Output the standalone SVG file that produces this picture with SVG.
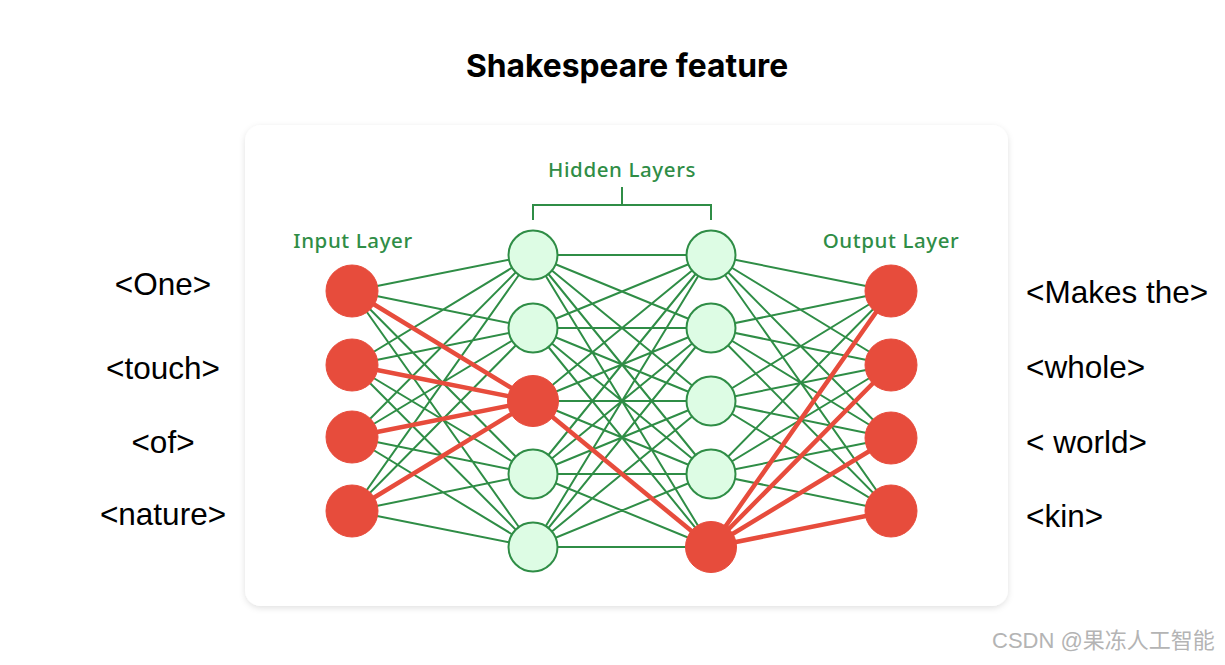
<svg xmlns="http://www.w3.org/2000/svg" width="1225" height="665" viewBox="0 0 1225 665">
<defs>
<filter id="sh" x="-5%" y="-5%" width="110%" height="115%">
<feDropShadow dx="0" dy="2" stdDeviation="3" flood-color="#000" flood-opacity="0.12"/>
</filter>
<style>
.lbl{font-family:"Liberation Sans",Arial,sans-serif;font-size:31.5px;fill:#000}
.gl{font-family:"Noto Sans","Open Sans",sans-serif;font-size:20.5px;font-weight:500;letter-spacing:0.6px;fill:#2f8d46}
.g{stroke:#2f8d46;stroke-width:2;fill:none}
.r{stroke:#e74c3c;stroke-width:4.5;fill:none}
.nr{fill:#e74c3c;stroke:#e74c3c;stroke-width:1}
.ng{fill:#ddfce4;stroke:#2f8d46;stroke-width:2}
</style>
</defs>
<rect width="1225" height="665" fill="#fff"/>
<text x="627" y="77" text-anchor="middle" font-family="Inter,'Liberation Sans',sans-serif" font-weight="700" font-size="31.8" fill="#000">Shakespeare feature</text>
<rect x="245" y="125" width="763" height="481" rx="16" fill="#fff" filter="url(#sh)"/>
<text class="gl" x="353" y="248" text-anchor="middle">Input Layer</text>
<text class="gl" x="622" y="177" text-anchor="middle">Hidden Layers</text>
<text class="gl" x="891" y="248" text-anchor="middle">Output Layer</text>
<path class="g" d="M533,220 V205 H711 V220 M622,205 V187"/>
<g id="connectors">
<g class="g">
<path d="M352,291 L533,255 M352,291 L533,328 M352,291 L533,474 M352,291 L533,547
M352,365 L533,255 M352,365 L533,328 M352,365 L533,474 M352,365 L533,547
M352,437 L533,255 M352,437 L533,328 M352,437 L533,474 M352,437 L533,547
M352,511 L533,255 M352,511 L533,328 M352,511 L533,474 M352,511 L533,547"/>
<path d="M533,255 L711,255 M533,255 L711,328 M533,255 L711,401 M533,255 L711,474 M533,255 L711,547
M533,328 L711,255 M533,328 L711,328 M533,328 L711,401 M533,328 L711,474 M533,328 L711,547
M533,401 L711,255 M533,401 L711,328 M533,401 L711,401 M533,401 L711,474
M533,474 L711,255 M533,474 L711,328 M533,474 L711,401 M533,474 L711,474 M533,474 L711,547
M533,547 L711,255 M533,547 L711,328 M533,547 L711,401 M533,547 L711,474 M533,547 L711,547"/>
<path d="M711,255 L891,291 M711,255 L891,365 M711,255 L891,438 M711,255 L891,511
M711,328 L891,291 M711,328 L891,365 M711,328 L891,438 M711,328 L891,511
M711,401 L891,291 M711,401 L891,365 M711,401 L891,438 M711,401 L891,511
M711,474 L891,291 M711,474 L891,365 M711,474 L891,438 M711,474 L891,511"/>
</g>
<g class="r">
<path d="M352,291 L533,401 M352,365 L533,401 M352,437 L533,401 M352,511 L533,401"/>
<path d="M533,401 L711,547"/>
<path d="M711,547 L891,291 M711,547 L891,365 M711,547 L891,438 M711,547 L891,511"/>
</g>
</g>
<g id="in1"><circle class="nr" cx="352" cy="291" r="26"/></g>
<g id="in2"><circle class="nr" cx="352" cy="365" r="26"/></g>
<g id="in3"><circle class="nr" cx="352" cy="437" r="26"/></g>
<g id="in4"><circle class="nr" cx="352" cy="511" r="26"/></g>
<g id="h1n1"><circle class="ng" cx="533" cy="255" r="24.5"/></g>
<g id="h1n2"><circle class="ng" cx="533" cy="328" r="24.5"/></g>
<g id="h1n3"><circle class="nr" cx="533" cy="401" r="25.5"/></g>
<g id="h1n4"><circle class="ng" cx="533" cy="474" r="24.5"/></g>
<g id="h1n5"><circle class="ng" cx="533" cy="547" r="24.5"/></g>
<g id="h2n1"><circle class="ng" cx="711" cy="255" r="24.5"/></g>
<g id="h2n2"><circle class="ng" cx="711" cy="328" r="24.5"/></g>
<g id="h2n3"><circle class="ng" cx="711" cy="401" r="24.5"/></g>
<g id="h2n4"><circle class="ng" cx="711" cy="474" r="24.5"/></g>
<g id="h2n5"><circle class="nr" cx="711" cy="547" r="25.5"/></g>
<g id="out1"><circle class="nr" cx="891" cy="291" r="26"/></g>
<g id="out2"><circle class="nr" cx="891" cy="365" r="26"/></g>
<g id="out3"><circle class="nr" cx="891" cy="438" r="26"/></g>
<g id="out4"><circle class="nr" cx="891" cy="511" r="26"/></g>
<g id="left-labels">
<text class="lbl" x="163" y="295" text-anchor="middle">&lt;One&gt;</text>
<text class="lbl" x="163" y="379" text-anchor="middle">&lt;touch&gt;</text>
<text class="lbl" x="163" y="453" text-anchor="middle">&lt;of&gt;</text>
<text class="lbl" x="163" y="525" text-anchor="middle">&lt;nature&gt;</text>
</g>
<g id="right-labels">
<text class="lbl" x="1026" y="303">&lt;Makes the&gt;</text>
<text class="lbl" x="1026" y="378">&lt;whole&gt;</text>
<text class="lbl" x="1026" y="453">&lt; world&gt;</text>
<text class="lbl" x="1026" y="527">&lt;kin&gt;</text>
</g>
<text x="992" y="648" font-family="'Liberation Sans','Noto Sans CJK SC',sans-serif" font-size="22" fill="#b4b4b4">CSDN @果冻人工智能</text>
</svg>
